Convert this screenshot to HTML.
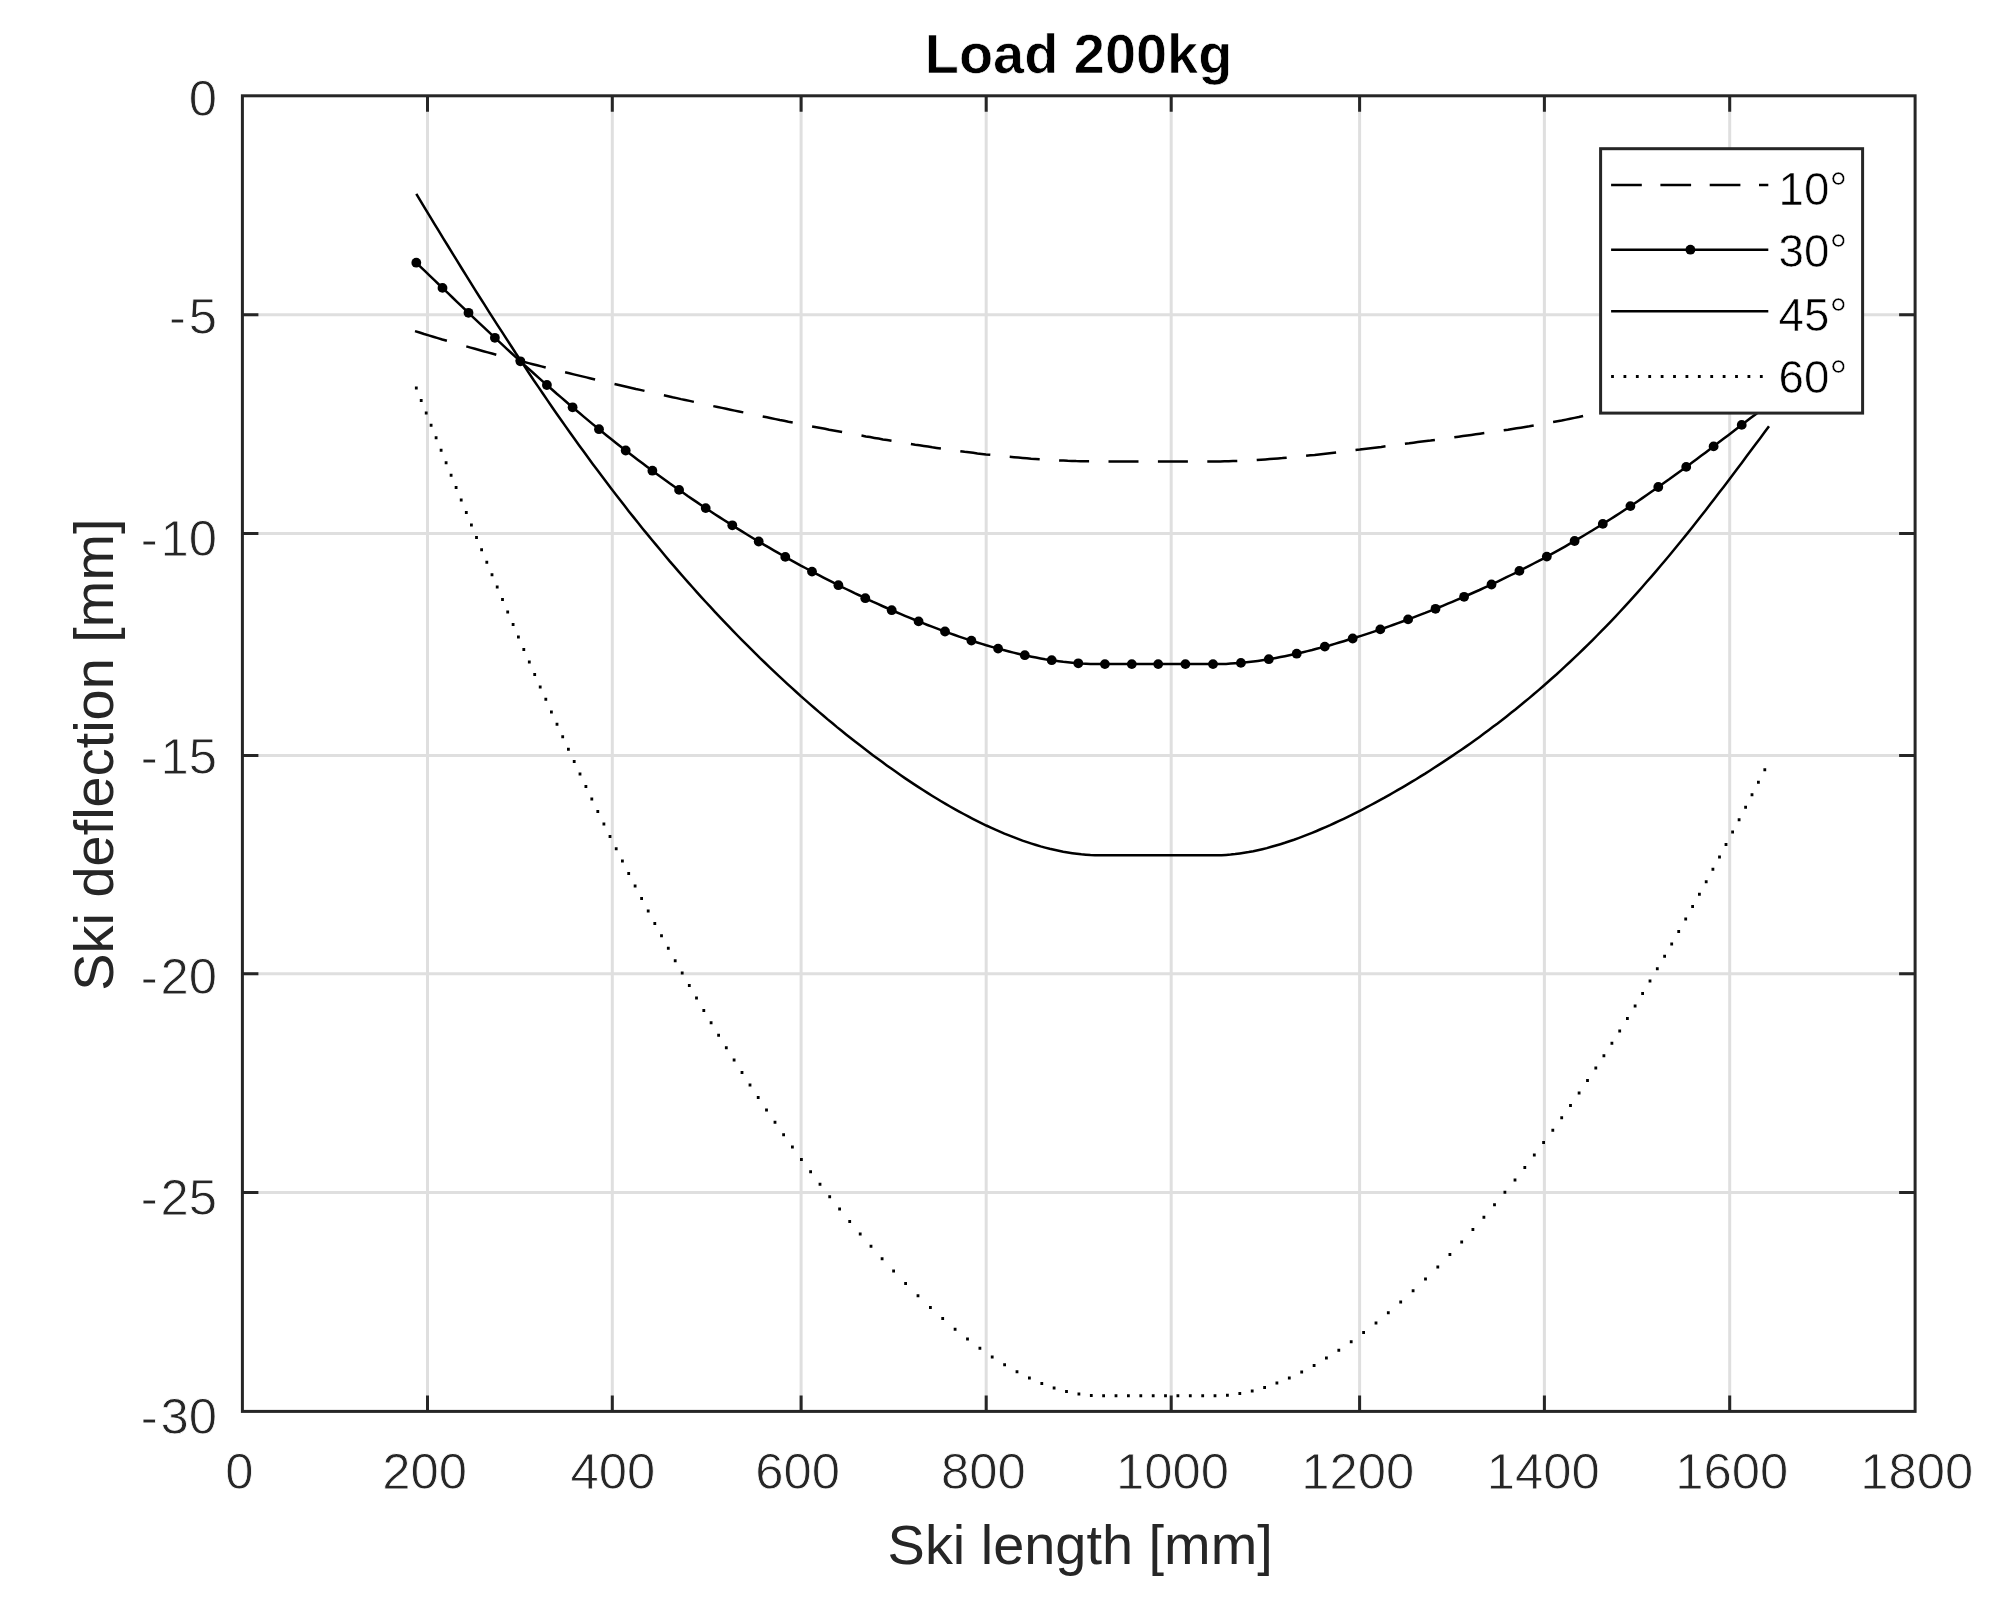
<!DOCTYPE html>
<html><head><meta charset="utf-8"><title>Load 200kg</title>
<style>html,body{margin:0;padding:0;background:#fff;width:2008px;height:1616px;overflow:hidden}svg{display:block;filter:blur(0.75px)}</style></head>
<body>
<svg width="2008" height="1616" viewBox="0 0 2008 1616">
<rect width="2008" height="1616" fill="#fff"/>
<path d="M427.5,95.8 V1411.4 M612.3,95.8 V1411.4 M801.1,95.8 V1411.4 M986.2,95.8 V1411.4 M1171.2,95.8 V1411.4 M1359.6,95.8 V1411.4 M1544.4,95.8 V1411.4 M1729.7,95.8 V1411.4 M242.4,314.8 H1915.1 M242.4,533.5 H1915.1 M242.4,755.4 H1915.1 M242.4,973.8 H1915.1 M242.4,1192.5 H1915.1" stroke="#262626" stroke-opacity="0.15" stroke-width="3" fill="none"/>
<path d="M415.0,331.1 L419.6,332.5 L424.1,334.0 L428.7,335.4 L433.2,336.7 L437.8,338.1 L442.3,339.5 L446.9,340.8 M466.3,346.4 L470.6,347.6 L474.9,348.8 L479.2,350.0 L483.4,351.2 L487.7,352.4 L492.0,353.5 L496.3,354.7 M515.7,359.8 L520.0,360.9 L524.3,362.0 L528.6,363.1 L532.8,364.2 L537.1,365.3 L541.4,366.4 L545.7,367.5 M565.1,372.3 L569.4,373.3 L573.7,374.4 L578.0,375.4 L582.2,376.4 L586.5,377.4 L590.8,378.5 L595.1,379.5 M614.5,384.0 L618.8,385.0 L623.1,386.0 L627.4,387.0 L631.6,388.0 L635.9,389.0 L640.2,389.9 L644.5,390.9 M663.9,395.3 L668.2,396.2 L672.5,397.2 L676.8,398.1 L681.0,399.1 L685.3,400.0 L689.6,400.9 L693.9,401.9 M713.3,406.1 L717.6,407.0 L721.9,407.9 L726.2,408.8 L730.4,409.7 L734.7,410.6 L739.0,411.5 L743.3,412.4 M762.7,416.5 L767.0,417.3 L771.3,418.2 L775.6,419.1 L779.8,420.0 L784.1,420.8 L788.4,421.7 L792.7,422.5 M812.1,426.4 L816.4,427.2 L820.7,428.0 L825.0,428.8 L829.2,429.7 L833.5,430.5 L837.8,431.3 L842.1,432.1 M861.5,435.6 L865.8,436.4 L870.1,437.1 L874.4,437.9 L878.6,438.6 L882.9,439.4 L887.2,440.1 L891.5,440.8 M910.9,444.0 L915.2,444.7 L919.5,445.3 L923.8,446.0 L928.0,446.6 L932.3,447.3 L936.6,447.9 L940.9,448.5 M960.3,451.2 L964.6,451.8 L968.9,452.3 L973.2,452.8 L977.4,453.4 L981.7,453.9 L986.0,454.4 L990.3,454.8 M1009.7,456.8 L1014.0,457.2 L1018.3,457.6 L1022.6,458.0 L1026.8,458.3 L1031.1,458.7 L1035.4,459.0 L1039.7,459.3 M1059.1,460.4 L1063.4,460.6 L1067.7,460.8 L1072.0,460.9 L1076.2,461.1 L1080.5,461.2 L1084.8,461.3 L1089.1,461.3 M1108.5,461.4 L1112.8,461.4 L1117.1,461.4 L1121.4,461.4 L1125.6,461.4 L1129.9,461.4 L1134.2,461.4 L1138.5,461.4 M1157.9,461.4 L1162.2,461.4 L1166.5,461.4 L1170.8,461.4 L1175.0,461.4 L1179.3,461.4 L1183.6,461.4 L1187.9,461.4 M1207.3,461.4 L1211.6,461.4 L1215.9,461.4 L1220.2,461.4 L1224.4,461.3 L1228.7,461.2 L1233.0,461.1 L1237.3,461.0 M1256.7,460.0 L1261.0,459.7 L1265.3,459.4 L1269.6,459.1 L1273.8,458.8 L1278.1,458.4 L1282.4,458.1 L1286.7,457.7 M1306.1,455.8 L1310.4,455.3 L1314.7,454.9 L1319.0,454.4 L1323.2,453.9 L1327.5,453.4 L1331.8,452.9 L1336.1,452.4 M1355.5,450.1 L1359.8,449.6 L1364.1,449.0 L1368.4,448.5 L1372.6,448.0 L1376.9,447.4 L1381.2,446.9 L1385.5,446.3 M1404.9,443.8 L1409.2,443.3 L1413.5,442.7 L1417.8,442.1 L1422.0,441.6 L1426.3,441.0 L1430.6,440.5 L1434.9,439.9 M1454.3,437.3 L1458.6,436.7 L1462.9,436.1 L1467.2,435.5 L1471.4,434.9 L1475.7,434.3 L1480.0,433.7 L1484.3,433.1 M1503.7,430.3 L1508.0,429.7 L1512.3,429.0 L1516.6,428.3 L1520.8,427.7 L1525.1,427.0 L1529.4,426.3 L1533.7,425.5 M1553.1,422.1 L1557.4,421.3 L1561.7,420.5 L1566.0,419.6 L1570.2,418.8 L1574.5,417.9 L1578.8,417.0 L1583.1,416.0 M1602.5,411.4 L1606.8,410.3 L1611.1,409.2 L1615.4,408.0 L1619.6,406.8 L1623.9,405.6 L1628.2,404.3 L1632.5,403.0 M1651.9,396.5 L1656.2,394.9 L1660.5,393.3 L1664.8,391.6 L1669.0,389.8 L1673.3,388.1 L1677.6,386.2 L1681.9,384.3 M1701.3,374.8 L1705.6,372.5 L1709.9,370.2 L1714.2,367.7 L1718.4,365.2 L1722.7,362.6 L1727.0,360.0 L1731.3,357.2 M1750.7,343.6 L1753.3,341.6 L1755.9,339.6 L1758.5,337.5 L1761.2,335.4 L1763.8,333.3 L1766.4,331.1 L1769.0,328.9" stroke="#000" stroke-width="2.5" fill="none"/>
<path d="M416.3,262.7 L420.8,267.1 L425.3,271.4 L429.9,275.8 L434.4,280.1 L438.9,284.5 L443.4,288.8 L448.0,293.2 L452.5,297.5 L457.0,301.9 L461.5,306.2 L466.1,310.5 L470.6,314.8 L475.1,319.1 L479.6,323.4 L484.2,327.7 L488.7,331.9 L493.2,336.2 L497.7,340.4 L502.3,344.6 L506.8,348.8 L511.3,353.0 L515.8,357.1 L520.4,361.2 L524.9,365.4 L529.4,369.4 L533.9,373.5 L538.5,377.6 L543.0,381.6 L547.5,385.6 L552.0,389.5 L556.5,393.5 L561.1,397.4 L565.6,401.3 L570.1,405.2 L574.6,409.0 L579.2,412.8 L583.7,416.6 L588.2,420.4 L592.7,424.1 L597.3,427.8 L601.8,431.5 L606.3,435.2 L610.8,438.8 L615.4,442.4 L619.9,445.9 L624.4,449.5 L628.9,453.0 L633.5,456.5 L638.0,459.9 L642.5,463.3 L647.0,466.7 L651.6,470.1 L656.1,473.4 L660.6,476.7 L665.1,480.0 L669.6,483.3 L674.2,486.5 L678.7,489.7 L683.2,492.8 L687.7,496.0 L692.3,499.1 L696.8,502.1 L701.3,505.2 L705.8,508.2 L710.4,511.2 L714.9,514.2 L719.4,517.1 L723.9,520.0 L728.5,522.9 L733.0,525.8 L737.5,528.6 L742.0,531.4 L746.6,534.2 L751.1,537.0 L755.6,539.7 L760.1,542.4 L764.7,545.1 L769.2,547.7 L773.7,550.3 L778.2,552.9 L782.8,555.5 L787.3,558.1 L791.8,560.6 L796.3,563.1 L800.8,565.6 L805.4,568.0 L809.9,570.4 L814.4,572.8 L818.9,575.2 L823.5,577.6 L828.0,579.9 L832.5,582.2 L837.0,584.5 L841.6,586.8 L846.1,589.0 L850.6,591.2 L855.1,593.4 L859.7,595.5 L864.2,597.7 L868.7,599.8 L873.2,601.9 L877.8,603.9 L882.3,606.0 L886.8,608.0 L891.3,610.0 L895.9,612.0 L900.4,613.9 L904.9,615.8 L909.4,617.7 L913.9,619.5 L918.5,621.4 L923.0,623.2 L927.5,625.0 L932.0,626.7 L936.6,628.4 L941.1,630.1 L945.6,631.8 L950.1,633.4 L954.7,635.0 L959.2,636.6 L963.7,638.1 L968.2,639.6 L972.8,641.1 L977.3,642.5 L981.8,643.9 L986.3,645.3 L990.9,646.6 L995.4,647.9 L999.9,649.1 L1004.4,650.3 L1009.0,651.5 L1013.5,652.6 L1018.0,653.7 L1022.5,654.7 L1027.1,655.7 L1031.6,656.7 L1036.1,657.6 L1040.6,658.4 L1045.1,659.2 L1049.7,659.9 L1054.2,660.6 L1058.7,661.2 L1063.2,661.8 L1067.8,662.3 L1072.3,662.8 L1076.8,663.2 L1081.3,663.5 L1085.9,663.7 L1090.4,663.9 L1094.9,664.1 L1099.4,664.1 L1104.0,664.1 L1108.5,664.1 L1113.0,664.1 L1117.5,664.1 L1122.1,664.1 L1126.6,664.1 L1131.1,664.1 L1135.6,664.1 L1140.2,664.1 L1144.7,664.1 L1149.2,664.1 L1153.7,664.1 L1158.2,664.1 L1162.8,664.1 L1167.3,664.1 L1171.8,664.1 L1176.3,664.1 L1180.9,664.1 L1185.4,664.1 L1189.9,664.1 L1194.4,664.1 L1199.0,664.1 L1203.5,664.1 L1208.0,664.1 L1212.5,664.1 L1217.1,664.1 L1221.6,664.0 L1226.1,663.9 L1230.6,663.6 L1235.2,663.3 L1239.7,663.0 L1244.2,662.6 L1248.7,662.1 L1253.3,661.5 L1257.8,660.9 L1262.3,660.3 L1266.8,659.6 L1271.4,658.8 L1275.9,658.0 L1280.4,657.1 L1284.9,656.2 L1289.4,655.3 L1294.0,654.3 L1298.5,653.3 L1303.0,652.2 L1307.5,651.1 L1312.1,650.0 L1316.6,648.8 L1321.1,647.6 L1325.6,646.4 L1330.2,645.2 L1334.7,643.9 L1339.2,642.5 L1343.7,641.2 L1348.3,639.8 L1352.8,638.4 L1357.3,637.0 L1361.8,635.6 L1366.4,634.1 L1370.9,632.6 L1375.4,631.1 L1379.9,629.5 L1384.5,628.0 L1389.0,626.4 L1393.5,624.8 L1398.0,623.1 L1402.5,621.5 L1407.1,619.8 L1411.6,618.1 L1416.1,616.4 L1420.6,614.6 L1425.2,612.9 L1429.7,611.1 L1434.2,609.3 L1438.7,607.5 L1443.3,605.6 L1447.8,603.7 L1452.3,601.8 L1456.8,599.9 L1461.4,598.0 L1465.9,596.0 L1470.4,594.0 L1474.9,592.0 L1479.5,590.0 L1484.0,587.9 L1488.5,585.8 L1493.0,583.7 L1497.6,581.6 L1502.1,579.4 L1506.6,577.2 L1511.1,575.0 L1515.7,572.8 L1520.2,570.5 L1524.7,568.2 L1529.2,565.9 L1533.7,563.5 L1538.3,561.2 L1542.8,558.8 L1547.3,556.3 L1551.8,553.8 L1556.4,551.3 L1560.9,548.8 L1565.4,546.3 L1569.9,543.7 L1574.5,541.1 L1579.0,538.4 L1583.5,535.7 L1588.0,533.0 L1592.6,530.3 L1597.1,527.5 L1601.6,524.7 L1606.1,521.9 L1610.7,519.0 L1615.2,516.1 L1619.7,513.2 L1624.2,510.2 L1628.8,507.2 L1633.3,504.2 L1637.8,501.2 L1642.3,498.1 L1646.8,495.0 L1651.4,491.8 L1655.9,488.7 L1660.4,485.5 L1664.9,482.3 L1669.5,479.1 L1674.0,475.8 L1678.5,472.5 L1683.0,469.2 L1687.6,465.9 L1692.1,462.5 L1696.6,459.2 L1701.1,455.8 L1705.7,452.4 L1710.2,449.0 L1714.7,445.5 L1719.2,442.1 L1723.8,438.6 L1728.3,435.2 L1732.8,431.7 L1737.3,428.3 L1741.9,424.8 L1746.4,421.3 L1750.9,417.8 L1755.4,414.4 L1760.0,410.9 L1764.5,407.4 L1769.0,404.0" stroke="#000" stroke-width="2.5" fill="none"/>
<g fill="#000"><circle cx="416.3" cy="262.7" r="4.9"/><circle cx="442.5" cy="287.9" r="4.9"/><circle cx="468.5" cy="312.8" r="4.9"/><circle cx="494.9" cy="337.8" r="4.9"/><circle cx="520.4" cy="361.3" r="4.9"/><circle cx="546.9" cy="385.0" r="4.9"/><circle cx="572.6" cy="407.3" r="4.9"/><circle cx="599.0" cy="429.2" r="4.9"/><circle cx="625.7" cy="450.5" r="4.9"/><circle cx="652.4" cy="470.7" r="4.9"/><circle cx="679.1" cy="489.9" r="4.9"/><circle cx="705.7" cy="508.1" r="4.9"/><circle cx="732.3" cy="525.3" r="4.9"/><circle cx="758.7" cy="541.5" r="4.9"/><circle cx="785.3" cy="556.9" r="4.9"/><circle cx="812.0" cy="571.6" r="4.9"/><circle cx="838.4" cy="585.2" r="4.9"/><circle cx="865.3" cy="598.2" r="4.9"/><circle cx="891.7" cy="610.2" r="4.9"/><circle cx="918.6" cy="621.4" r="4.9"/><circle cx="945.0" cy="631.5" r="4.9"/><circle cx="971.4" cy="640.6" r="4.9"/><circle cx="998.1" cy="648.6" r="4.9"/><circle cx="1024.8" cy="655.2" r="4.9"/><circle cx="1051.7" cy="660.2" r="4.9"/><circle cx="1078.3" cy="663.3" r="4.9"/><circle cx="1104.9" cy="664.1" r="4.9"/><circle cx="1131.8" cy="664.1" r="4.9"/><circle cx="1158.2" cy="664.1" r="4.9"/><circle cx="1185.4" cy="664.1" r="4.9"/><circle cx="1213.0" cy="664.1" r="4.9"/><circle cx="1240.9" cy="662.9" r="4.9"/><circle cx="1268.8" cy="659.2" r="4.9"/><circle cx="1296.7" cy="653.7" r="4.9"/><circle cx="1324.8" cy="646.6" r="4.9"/><circle cx="1352.7" cy="638.5" r="4.9"/><circle cx="1380.3" cy="629.4" r="4.9"/><circle cx="1408.1" cy="619.4" r="4.9"/><circle cx="1435.5" cy="608.8" r="4.9"/><circle cx="1464.1" cy="596.8" r="4.9"/><circle cx="1491.5" cy="584.5" r="4.9"/><circle cx="1519.4" cy="570.9" r="4.9"/><circle cx="1546.8" cy="556.6" r="4.9"/><circle cx="1574.6" cy="541.0" r="4.9"/><circle cx="1602.8" cy="523.9" r="4.9"/><circle cx="1630.4" cy="506.1" r="4.9"/><circle cx="1658.3" cy="487.0" r="4.9"/><circle cx="1686.2" cy="466.9" r="4.9"/><circle cx="1713.6" cy="446.4" r="4.9"/><circle cx="1741.7" cy="424.9" r="4.9"/><circle cx="1769.6" cy="403.5" r="4.9"/></g>
<path d="M416.3,193.9 L420.8,201.4 L425.3,208.9 L429.9,216.3 L434.4,223.8 L438.9,231.2 L443.4,238.6 L448.0,246.0 L452.5,253.4 L457.0,260.7 L461.5,268.0 L466.1,275.3 L470.6,282.6 L475.1,289.8 L479.6,297.0 L484.2,304.1 L488.7,311.3 L493.2,318.4 L497.7,325.4 L502.3,332.4 L506.8,339.4 L511.3,346.3 L515.8,353.3 L520.4,360.1 L524.9,366.9 L529.4,373.7 L533.9,380.5 L538.5,387.1 L543.0,393.8 L547.5,400.4 L552.0,407.0 L556.5,413.5 L561.1,420.0 L565.6,426.4 L570.1,432.8 L574.6,439.1 L579.2,445.4 L583.7,451.6 L588.2,457.8 L592.7,463.9 L597.3,470.0 L601.8,476.1 L606.3,482.1 L610.8,488.0 L615.4,493.9 L619.9,499.8 L624.4,505.6 L628.9,511.4 L633.5,517.1 L638.0,522.7 L642.5,528.4 L647.0,533.9 L651.6,539.5 L656.1,544.9 L660.6,550.3 L665.1,555.7 L669.6,561.1 L674.2,566.3 L678.7,571.6 L683.2,576.8 L687.7,581.9 L692.3,587.0 L696.8,592.1 L701.3,597.1 L705.8,602.0 L710.4,606.9 L714.9,611.8 L719.4,616.6 L723.9,621.4 L728.5,626.1 L733.0,630.8 L737.5,635.5 L742.0,640.1 L746.6,644.7 L751.1,649.2 L755.6,653.6 L760.1,658.1 L764.7,662.5 L769.2,666.8 L773.7,671.1 L778.2,675.4 L782.8,679.6 L787.3,683.8 L791.8,687.9 L796.3,692.0 L800.8,696.1 L805.4,700.1 L809.9,704.1 L814.4,708.0 L818.9,711.9 L823.5,715.7 L828.0,719.6 L832.5,723.3 L837.0,727.1 L841.6,730.8 L846.1,734.4 L850.6,738.0 L855.1,741.6 L859.7,745.1 L864.2,748.6 L868.7,752.0 L873.2,755.4 L877.8,758.8 L882.3,762.1 L886.8,765.4 L891.3,768.6 L895.9,771.8 L900.4,775.0 L904.9,778.1 L909.4,781.1 L913.9,784.1 L918.5,787.1 L923.0,790.0 L927.5,792.9 L932.0,795.7 L936.6,798.5 L941.1,801.2 L945.6,803.9 L950.1,806.5 L954.7,809.1 L959.2,811.6 L963.7,814.0 L968.2,816.4 L972.8,818.8 L977.3,821.1 L981.8,823.3 L986.3,825.5 L990.9,827.6 L995.4,829.7 L999.9,831.6 L1004.4,833.6 L1009.0,835.4 L1013.5,837.2 L1018.0,838.9 L1022.5,840.6 L1027.1,842.1 L1031.6,843.6 L1036.1,845.0 L1040.6,846.4 L1045.1,847.6 L1049.7,848.8 L1054.2,849.8 L1058.7,850.8 L1063.2,851.7 L1067.8,852.5 L1072.3,853.2 L1076.8,853.8 L1081.3,854.3 L1085.9,854.7 L1090.4,855.0 L1094.9,855.2 L1099.4,855.3 L1104.0,855.3 L1108.5,855.3 L1113.0,855.3 L1117.5,855.3 L1122.1,855.3 L1126.6,855.3 L1131.1,855.3 L1135.6,855.3 L1140.2,855.3 L1144.7,855.3 L1149.2,855.3 L1153.7,855.3 L1158.2,855.3 L1162.8,855.3 L1167.3,855.3 L1171.8,855.3 L1176.3,855.3 L1180.9,855.3 L1185.4,855.3 L1189.9,855.3 L1194.4,855.3 L1199.0,855.3 L1203.5,855.3 L1208.0,855.3 L1212.5,855.3 L1217.1,855.3 L1221.6,855.2 L1226.1,854.9 L1230.6,854.6 L1235.2,854.1 L1239.7,853.5 L1244.2,852.8 L1248.7,852.1 L1253.3,851.2 L1257.8,850.2 L1262.3,849.2 L1266.8,848.1 L1271.4,846.8 L1275.9,845.5 L1280.4,844.2 L1284.9,842.8 L1289.4,841.2 L1294.0,839.7 L1298.5,838.1 L1303.0,836.4 L1307.5,834.6 L1312.1,832.8 L1316.6,831.0 L1321.1,829.0 L1325.6,827.1 L1330.2,825.1 L1334.7,823.0 L1339.2,820.9 L1343.7,818.8 L1348.3,816.6 L1352.8,814.4 L1357.3,812.1 L1361.8,809.8 L1366.4,807.4 L1370.9,805.0 L1375.4,802.6 L1379.9,800.2 L1384.5,797.7 L1389.0,795.1 L1393.5,792.5 L1398.0,789.9 L1402.5,787.3 L1407.1,784.6 L1411.6,781.9 L1416.1,779.2 L1420.6,776.4 L1425.2,773.6 L1429.7,770.7 L1434.2,767.8 L1438.7,764.9 L1443.3,761.9 L1447.8,758.9 L1452.3,755.9 L1456.8,752.8 L1461.4,749.7 L1465.9,746.6 L1470.4,743.4 L1474.9,740.2 L1479.5,736.9 L1484.0,733.6 L1488.5,730.2 L1493.0,726.8 L1497.6,723.4 L1502.1,719.9 L1506.6,716.4 L1511.1,712.8 L1515.7,709.2 L1520.2,705.5 L1524.7,701.8 L1529.2,698.1 L1533.7,694.3 L1538.3,690.4 L1542.8,686.5 L1547.3,682.5 L1551.8,678.5 L1556.4,674.5 L1560.9,670.4 L1565.4,666.2 L1569.9,662.0 L1574.5,657.7 L1579.0,653.4 L1583.5,649.0 L1588.0,644.6 L1592.6,640.1 L1597.1,635.5 L1601.6,630.9 L1606.1,626.3 L1610.7,621.6 L1615.2,616.8 L1619.7,612.0 L1624.2,607.1 L1628.8,602.1 L1633.3,597.2 L1637.8,592.1 L1642.3,587.0 L1646.8,581.8 L1651.4,576.6 L1655.9,571.4 L1660.4,566.0 L1664.9,560.7 L1669.5,555.2 L1674.0,549.8 L1678.5,544.3 L1683.0,538.7 L1687.6,533.1 L1692.1,527.4 L1696.6,521.7 L1701.1,516.0 L1705.7,510.2 L1710.2,504.3 L1714.7,498.5 L1719.2,492.6 L1723.8,486.7 L1728.3,480.7 L1732.8,474.7 L1737.3,468.7 L1741.9,462.7 L1746.4,456.6 L1750.9,450.5 L1755.4,444.5 L1760.0,438.4 L1764.5,432.3 L1769.0,426.2" stroke="#000" stroke-width="2.5" fill="none"/>
<path d="M414.9,388.1 h2.8 M419.8,400.5 h2.8 M424.8,412.9 h2.8 M429.7,425.3 h2.8 M434.7,437.8 h2.8 M439.7,450.3 h2.8 M444.7,462.8 h2.8 M449.7,475.2 h2.8 M454.7,487.6 h2.8 M459.8,500.0 h2.8 M464.9,512.5 h2.8 M470.0,524.9 h2.8 M475.1,537.4 h2.8 M480.2,549.8 h2.8 M485.4,562.2 h2.8 M490.6,574.7 h2.8 M495.8,587.1 h2.8 M501.1,599.6 h2.8 M506.3,612.1 h2.8 M511.7,624.6 h2.8 M517.0,637.0 h2.8 M522.4,649.6 h2.8 M527.9,662.0 h2.8 M533.3,674.5 h2.8 M538.8,686.9 h2.8 M544.4,699.3 h2.8 M550.0,711.9 h2.8 M555.6,724.3 h2.8 M561.3,736.7 h2.8 M567.0,749.2 h2.8 M572.8,761.6 h2.8 M578.6,774.1 h2.8 M584.5,786.5 h2.8 M590.4,799.0 h2.8 M596.4,811.5 h2.8 M602.5,824.0 h2.8 M608.6,836.4 h2.8 M614.8,848.7 h2.8 M621.0,861.1 h2.8 M627.3,873.5 h2.8 M633.7,886.0 h2.8 M640.2,898.5 h2.8 M646.8,911.0 h2.8 M653.4,923.4 h2.8 M660.1,935.8 h2.8 M666.9,948.3 h2.8 M673.8,960.7 h2.8 M680.8,973.1 h2.8 M687.9,985.6 h2.8 M695.1,998.0 h2.8 M702.4,1010.4 h2.8 M709.7,1022.8 h2.8 M717.2,1035.2 h2.8 M724.9,1047.7 h2.8 M732.7,1060.1 h2.8 M740.6,1072.6 h2.8 M748.6,1085.0 h2.8 M756.8,1097.5 h2.8 M765.1,1109.9 h2.8 M773.6,1122.3 h2.8 M782.2,1134.7 h2.8 M791.0,1147.1 h2.8 M800.0,1159.5 h2.8 M809.2,1171.8 h2.8 M818.6,1184.2 h2.8 M828.3,1196.7 h2.8 M838.2,1209.1 h2.8 M848.3,1221.5 h2.8 M858.8,1233.9 h2.8 M869.6,1246.3 h2.8 M880.7,1258.7 h2.8 M892.2,1271.1 h2.8 M904.2,1283.5 h2.8 M916.6,1295.8 h2.8 M929.0,1307.5 h2.8 M941.3,1318.6 h2.8 M953.7,1329.2 h2.8 M966.1,1339.1 h2.8 M978.5,1348.3 h2.8 M990.8,1356.9 h2.8 M1003.2,1364.7 h2.8 M1015.6,1371.8 h2.8 M1028.0,1378.1 h2.8 M1040.4,1383.5 h2.8 M1052.7,1388.0 h2.8 M1065.1,1391.6 h2.8 M1077.5,1394.1 h2.8 M1089.9,1395.5 h2.8 M1102.2,1395.8 h2.8 M1114.6,1395.8 h2.8 M1127.0,1395.8 h2.8 M1139.4,1395.8 h2.8 M1151.8,1395.8 h2.8 M1164.1,1395.8 h2.8 M1176.5,1395.8 h2.8 M1188.9,1395.8 h2.8 M1201.3,1395.8 h2.8 M1213.6,1395.8 h2.8 M1226.0,1395.2 h2.8 M1238.4,1393.6 h2.8 M1250.8,1391.0 h2.8 M1263.2,1387.5 h2.8 M1275.5,1383.1 h2.8 M1287.9,1378.0 h2.8 M1300.3,1372.0 h2.8 M1312.7,1365.4 h2.8 M1325.0,1358.1 h2.8 M1337.4,1350.2 h2.8 M1349.8,1341.7 h2.8 M1362.2,1332.6 h2.8 M1374.6,1322.9 h2.8 M1386.9,1312.7 h2.8 M1399.3,1302.0 h2.8 M1411.7,1290.8 h2.8 M1424.1,1279.1 h2.8 M1436.4,1266.9 h2.8 M1448.5,1254.5 h2.8 M1460.3,1242.0 h2.8 M1471.5,1229.6 h2.8 M1482.5,1217.2 h2.8 M1493.1,1204.7 h2.8 M1503.5,1192.3 h2.8 M1513.6,1179.9 h2.8 M1523.4,1167.4 h2.8 M1532.9,1155.0 h2.8 M1542.2,1142.6 h2.8 M1551.4,1130.2 h2.8 M1560.3,1117.8 h2.8 M1569.1,1105.4 h2.8 M1577.7,1092.9 h2.8 M1586.1,1080.5 h2.8 M1594.4,1068.1 h2.8 M1602.5,1055.7 h2.8 M1610.5,1043.3 h2.8 M1618.3,1030.9 h2.8 M1626.0,1018.5 h2.8 M1633.7,1006.0 h2.8 M1641.2,993.6 h2.8 M1648.6,981.1 h2.8 M1655.9,968.7 h2.8 M1663.2,956.3 h2.8 M1670.3,943.9 h2.8 M1677.3,931.5 h2.8 M1684.3,919.1 h2.8 M1691.2,906.6 h2.8 M1698.0,894.2 h2.8 M1704.8,881.7 h2.8 M1711.5,869.3 h2.8 M1718.1,856.9 h2.8 M1724.6,844.6 h2.8 M1731.2,832.1 h2.8 M1737.7,819.7 h2.8 M1744.2,807.2 h2.8 M1750.6,794.7 h2.8 M1757.0,782.2 h2.8 M1763.4,769.8 h2.8" stroke="#000" stroke-width="3" fill="none"/>
<path d="M427.5,1411.4 v-16 M427.5,95.8 v16 M612.3,1411.4 v-16 M612.3,95.8 v16 M801.1,1411.4 v-16 M801.1,95.8 v16 M986.2,1411.4 v-16 M986.2,95.8 v16 M1171.2,1411.4 v-16 M1171.2,95.8 v16 M1359.6,1411.4 v-16 M1359.6,95.8 v16 M1544.4,1411.4 v-16 M1544.4,95.8 v16 M1729.7,1411.4 v-16 M1729.7,95.8 v16 M242.4,314.8 h16 M1915.1,314.8 h-16 M242.4,533.5 h16 M1915.1,533.5 h-16 M242.4,755.4 h16 M1915.1,755.4 h-16 M242.4,973.8 h16 M1915.1,973.8 h-16 M242.4,1192.5 h16 M1915.1,1192.5 h-16" stroke="#262626" stroke-width="3" fill="none"/>
<rect x="242.4" y="95.8" width="1672.7" height="1315.6" fill="none" stroke="#262626" stroke-width="3"/>
<rect x="1600.6" y="148.7" width="262.0" height="264.4" fill="#fff" stroke="#262626" stroke-width="3"/>
<path d="M1611.1,185.0 H1641.8 M1660.4,185.0 H1691.1 M1709.7,185.0 H1740.4 M1759.0,185.0 H1768.3" stroke="#000" stroke-width="2.5" fill="none"/>
<path d="M1611.1,249.7 H1768.3 M1611.1,311.3 H1768.3" stroke="#000" stroke-width="2.5" fill="none"/>
<circle cx="1690.4" cy="249.7" r="4.9" fill="#000"/>
<path d="M1611.1,376.4 h2.8 M1623.5,376.4 h2.8 M1635.9,376.4 h2.8 M1648.3,376.4 h2.8 M1660.7,376.4 h2.8 M1673.1,376.4 h2.8 M1685.5,376.4 h2.8 M1697.9,376.4 h2.8 M1710.3,376.4 h2.8 M1722.7,376.4 h2.8 M1735.1,376.4 h2.8 M1747.5,376.4 h2.8 M1759.9,376.4 h2.8" stroke="#000" stroke-width="3" fill="none"/>
<g font-family="Liberation Sans, Arial, Helvetica, sans-serif" font-size="45.7" fill="#000" stroke="#fff" stroke-width="0.6">
<text x="1778.5" y="204.6">10°</text>
<text x="1778.5" y="266.8">30°</text>
<text x="1778.5" y="330.9">45°</text>
<text x="1778.5" y="392.7">60°</text>
</g>
<g font-family="Liberation Sans, Arial, Helvetica, sans-serif" font-size="50.8" fill="#262626" stroke="#fff" stroke-width="0.8">
<text x="239.4" y="1488.8" text-anchor="middle">0</text>
<text x="424.6" y="1488.8" text-anchor="middle">200</text>
<text x="613.0" y="1488.8" text-anchor="middle">400</text>
<text x="797.6" y="1488.8" text-anchor="middle">600</text>
<text x="983.3" y="1488.8" text-anchor="middle">800</text>
<text x="1172.6" y="1488.8" text-anchor="middle">1000</text>
<text x="1357.8" y="1488.8" text-anchor="middle">1200</text>
<text x="1543.2" y="1488.8" text-anchor="middle">1400</text>
<text x="1731.8" y="1488.8" text-anchor="middle">1600</text>
<text x="1916.8" y="1488.8" text-anchor="middle">1800</text>
<text x="216.9" y="115.7" text-anchor="end">0</text>
<text x="216.9" y="334.4" text-anchor="end">-<tspan dx="2.6">5</tspan></text>
<text x="216.9" y="555.5" text-anchor="end">-<tspan dx="2.6">10</tspan></text>
<text x="216.9" y="774.2" text-anchor="end">-<tspan dx="2.6">15</tspan></text>
<text x="216.9" y="993.6" text-anchor="end">-<tspan dx="2.6">20</tspan></text>
<text x="216.9" y="1215.3" text-anchor="end">-<tspan dx="2.6">25</tspan></text>
<text x="216.9" y="1433.9" text-anchor="end">-<tspan dx="2.6">30</tspan></text>
</g>
<g font-family="Liberation Sans, Arial, Helvetica, sans-serif" font-size="55.9" fill="#262626">
<text x="1080.2" y="1563.6" text-anchor="middle">Ski length [mm]</text>
<text transform="translate(113.3,754.6) rotate(-90)" text-anchor="middle">Ski deflection [mm]</text>
<text x="1078.6" y="72.8" text-anchor="middle" font-weight="bold" fill="#000" stroke="#fff" stroke-width="0.7">Load 200kg</text>
</g>
</svg>
</body></html>
